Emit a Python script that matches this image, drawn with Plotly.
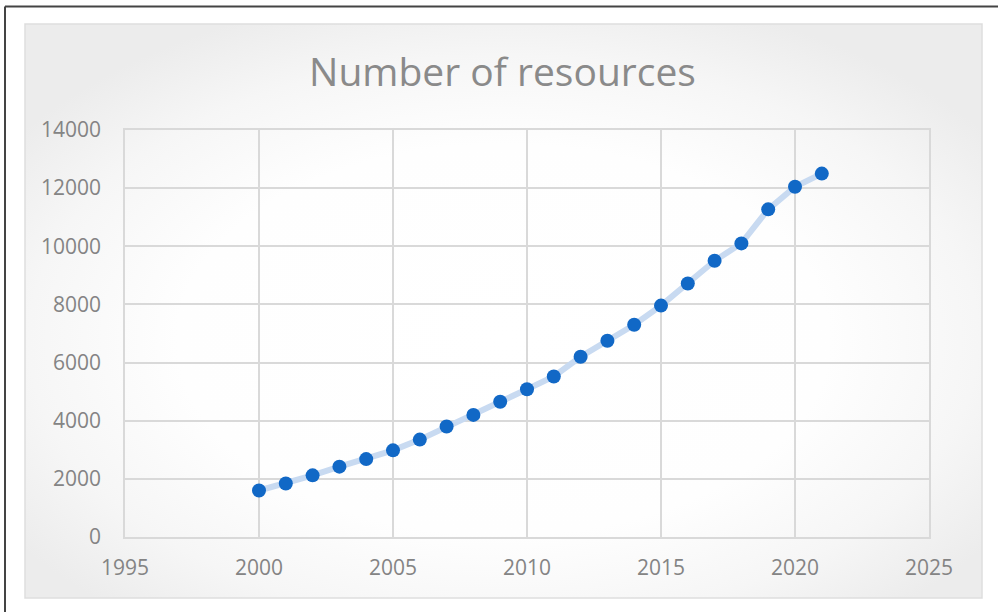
import base64
import plotly.graph_objects as go

years = list(range(2000, 2022))
resources = [1600, 1840, 2120, 2420, 2680, 2980, 3350, 3800, 4200, 4650, 5080,
             5520, 6200, 6750, 7300, 7960, 8720, 9500, 10100, 11270, 12050, 12500]
title_text = "Number of resources"

W, H = 998, 612
ML, MR, MT, MB = 125, 69, 130, 75
PW, PH = W - ML - MR, H - MT - MB


def px(x):
    return (x - ML) / PW


def py(y):
    return (H - MB - y) / PH


svg = ('<svg xmlns="http://www.w3.org/2000/svg" width="957" height="574" viewBox="0 0 957 574" preserveAspectRatio="none">'
       '<defs><radialGradient id="g" cx="50%" cy="55%" r="62%">'
       '<stop offset="0%" stop-color="#ffffff"/><stop offset="55%" stop-color="#fefefe"/>'
       '<stop offset="80%" stop-color="#f6f6f6"/><stop offset="100%" stop-color="#ececec"/>'
       '</radialGradient></defs><rect width="957" height="574" fill="url(#g)"/></svg>')
src = "data:image/svg+xml;base64," + base64.b64encode(svg.encode()).decode()

fig = go.Figure()
fig.add_trace(go.Scatter(
    x=years, y=resources, mode="lines+markers",
    line=dict(color="#c8daf1", width=6),
    marker=dict(color="#1168c6", size=14),
    showlegend=False, hoverinfo="x+y"))

bx0, bx1, by0, by1 = 25, 982, 24, 598
fig.add_layout_image(dict(source=src, xref="paper", yref="paper",
                          x=px(bx0), y=py(by0), sizex=px(bx1) - px(bx0), sizey=py(by0) - py(by1),
                          xanchor="left", yanchor="top", sizing="stretch", layer="below"))
fig.add_shape(type="rect", xref="paper", yref="paper",
              x0=px(bx0), x1=px(bx1), y0=py(by1), y1=py(by0),
              line=dict(color="#dedede", width=1.5), fillcolor="rgba(0,0,0,0)", layer="below")
# outer dark frame (top and left edges)
fig.add_shape(type="line", xref="paper", yref="paper",
              x0=px(5), x1=px(998), y0=py(6.5), y1=py(6.5), line=dict(color="#444444", width=2))
fig.add_shape(type="line", xref="paper", yref="paper",
              x0=px(5), x1=px(5), y0=py(6.5), y1=py(612), line=dict(color="#444444", width=2))

fig.update_layout(
    width=W, height=H,
    margin=dict(l=ML, r=MR, t=MT, b=MB),
    paper_bgcolor="#ffffff", plot_bgcolor="rgba(0,0,0,0)",
    title=dict(text=title_text, x=(306 + 699) / 2 / W, xanchor="center",
               y=1 - 72 / H, yanchor="middle", yref="container",
               font=dict(family="Open Sans", size=39, color="#8a8a8a")),
    font=dict(family="Open Sans", color="#808080"),
)
fig.update_xaxes(range=[1995, 2025], dtick=5, tick0=1995, showgrid=True, gridcolor="#d9d9d9",
                 gridwidth=1.5, zeroline=False, showline=True, mirror=True, linecolor="#d9d9d9",
                 linewidth=1.5, ticks="", ticklabelstandoff=11, tickformat="d",
                 tickfont=dict(family="Open Sans", size=21, color="#848484"))
fig.update_yaxes(range=[0, 14000], dtick=2000, showgrid=True, gridcolor="#d9d9d9",
                 gridwidth=1.5, zeroline=False, showline=True, mirror=True, linecolor="#d9d9d9",
                 linewidth=1.5, ticks="", ticklabelstandoff=18, tickformat="d",
                 tickfont=dict(family="Open Sans", size=21, color="#848484"))

fig.write_html("out.html")
